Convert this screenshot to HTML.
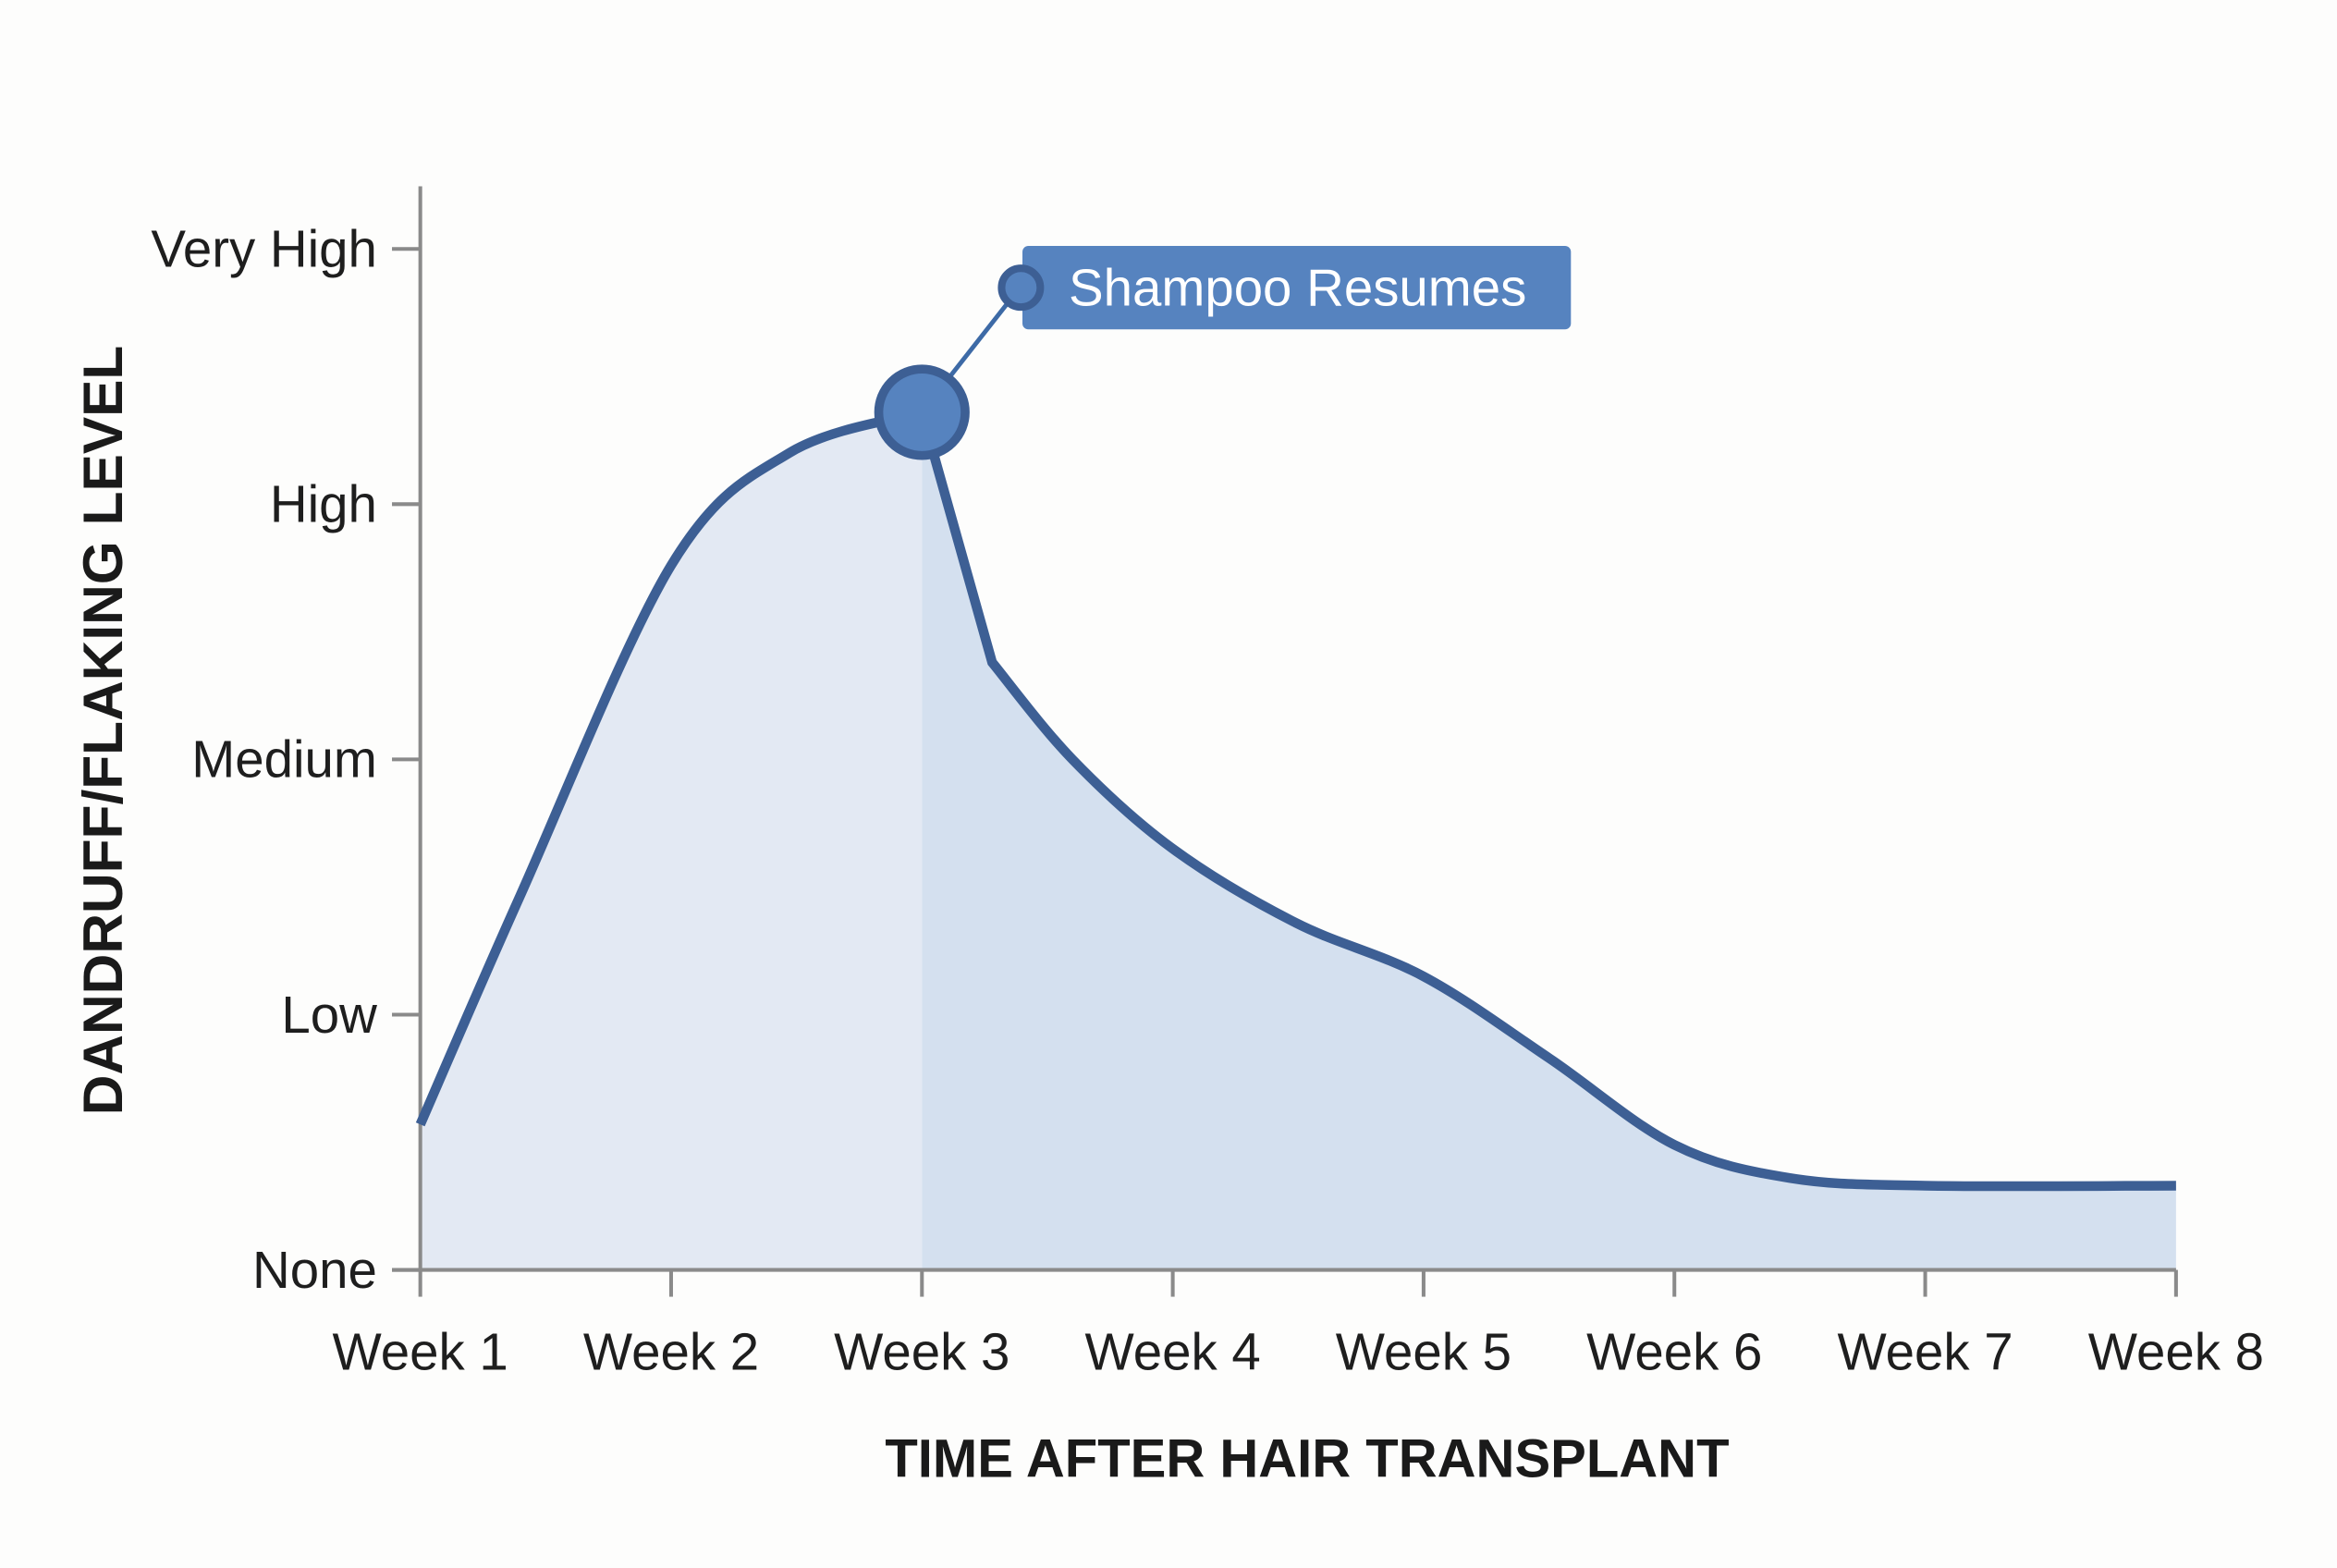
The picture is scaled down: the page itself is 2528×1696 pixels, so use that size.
<!DOCTYPE html>
<html><head><meta charset="utf-8"><style>
html,body{margin:0;padding:0;background:#fdfdfc;}
svg{display:block;}
text{font-family:"Liberation Sans",sans-serif;}
</style></head><body>
<svg id="chart" width="2528" height="1696" viewBox="0 0 1568 1052" preserveAspectRatio="none" xmlns="http://www.w3.org/2000/svg">
<rect width="1568" height="1052" fill="#fdfdfc"/>
<g id="fills"></g>
<g id="axes"></g>
<g id="series"></g>
<g id="annot"></g>
</svg>
<script>
const categories = ["Week 1","Week 2","Week 3","Week 4","Week 5","Week 6","Week 7","Week 8"];
const levelLabels = ["None","Low","Medium","High","Very High"];
// rising segment (week, level)
const riseWeeks = [1, 1.4, 2, 2.47, 3];
const riseLevels = [0.57, 1.47, 2.76, 3.2, 3.36];
// falling segment after shampoo resumes
const fallWeeks = [3.28, 3.6, 4, 4.49, 5, 5.5, 6, 6.46, 7, 8];
const fallLevels = [2.38, 2.0, 1.65, 1.36, 1.15, 0.83, 0.49, 0.36, 0.33, 0.33];
const peakWeek = 3, peakLevel = 3.36;
const annotationText = "Shampoo Resumes";

const NS="http://www.w3.org/2000/svg";
const X0=282, X1=1460, Y0=852, Y1=167;
const xs = w => X0 + (w-1)*(X1-X0)/(categories.length-1);
const ys = l => Y0 - l*(Y0-Y1)/(levelLabels.length-1);
function mk(tag, attrs, parent){const e=document.createElementNS(NS,tag);for(const k in attrs)e.setAttribute(k,attrs[k]);parent.appendChild(e);return e;}
function spline(pts){
  let d="";
  for(let i=0;i<pts.length-1;i++){
    const p0=pts[Math.max(i-1,0)],p1=pts[i],p2=pts[i+1],p3=pts[Math.min(i+2,pts.length-1)];
    const c1=[p1[0]+(p2[0]-p0[0])/6,p1[1]+(p2[1]-p0[1])/6];
    const c2=[p2[0]-(p3[0]-p1[0])/6,p2[1]-(p3[1]-p1[1])/6];
    d+=` C${c1[0]},${c1[1]} ${c2[0]},${c2[1]} ${p2[0]},${p2[1]}`;
  }
  return d;
}
const rise = riseWeeks.map((w,i)=>[xs(w),ys(riseLevels[i])]);
const fall = fallWeeks.map((w,i)=>[xs(w),ys(fallLevels[i])]);
const riseD = `M${rise[0][0]},${rise[0][1]}`+spline(rise);
const fallD = spline(fall);
const lineD = riseD + ` L${fall[0][0]},${fall[0][1]}` + fallD;

const fills=document.getElementById('fills');
const px=xs(peakWeek);
let f1=mk('path',{d:riseD+` L${px},${Y0} L${X0},${Y0} Z`,fill:'#e3e9f3'},fills);


let f2=mk('path',{d:`M${rise[rise.length-1][0]},${rise[rise.length-1][1]} L${fall[0][0]},${fall[0][1]}`+fallD+` L${fall[fall.length-1][0]},${Y0} L${px},${Y0} Z`,fill:'#d4e0ef'},fills);



const axes=document.getElementById('axes');
let ya=mk('line',{x1:X0,y1:125,x2:X0,y2:Y0,stroke:'#8a8a8a','stroke-width':2.5},axes);


let xa=mk('line',{x1:263,y1:Y0,x2:X1,y2:Y0,stroke:'#8a8a8a','stroke-width':2.5},axes);


levelLabels.forEach((lab,i)=>{
  const y=ys(i);
  let t=mk('line',{x1:263,y1:y,x2:X0,y2:y,stroke:'#8a8a8a','stroke-width':2.5},axes);
  
  
  let tx=mk('text',{x:253,y:y+12,'text-anchor':'end','font-size':35,fill:'#1e1e1e',textLength:null},axes);
  tx.removeAttribute('textLength');
  tx.textContent=lab;
  
  
});
categories.forEach((c,i)=>{
  const x=xs(i+1);
  let t=mk('line',{x1:x,y1:Y0,x2:x,y2:870,stroke:'#8a8a8a','stroke-width':2.5},axes);
  
  
  let tx=mk('text',{x:x,y:919,'text-anchor':'middle','font-size':35,fill:'#1e1e1e'},axes);
  tx.textContent=c;
  
  
});
let xt=mk('text',{x:877,y:991,'text-anchor':'middle','font-size':36,'font-weight':'bold',fill:'#1a1a1a'},axes);
xt.textContent="TIME AFTER HAIR TRANSPLANT";


let yt=mk('text',{x:0,y:0,'text-anchor':'middle','font-size':37.5,'font-weight':'bold',fill:'#1a1a1a',transform:'translate(82,490) rotate(-90)'},axes);
yt.textContent="DANDRUFF/FLAKING LEVEL";



const series=document.getElementById('series');
let ln=mk('path',{d:lineD,fill:'none',stroke:'#3d5f94','stroke-width':6.5,'stroke-linejoin':'miter'},series);



const annot=document.getElementById('annot');
const py=ys(peakLevel);
let cl=mk('line',{x1:px,y1:py,x2:685,y2:192,stroke:'#3d6aa6','stroke-width':3},annot);


let box=mk('rect',{x:686,y:165,width:368,height:56,rx:4,fill:'#5683bf'},annot);


let sc=mk('circle',{cx:685,cy:193,r:13,fill:'#5683bf',stroke:'#3d5f94','stroke-width':5},annot);


let at=mk('text',{x:717,y:205,'font-size':35,fill:'#ffffff'},annot);
at.textContent=annotationText;


let pk=mk('circle',{cx:px,cy:py,r:29,fill:'#5683bf',stroke:'#3d5f94','stroke-width':6},annot);


</script>
</body></html>
